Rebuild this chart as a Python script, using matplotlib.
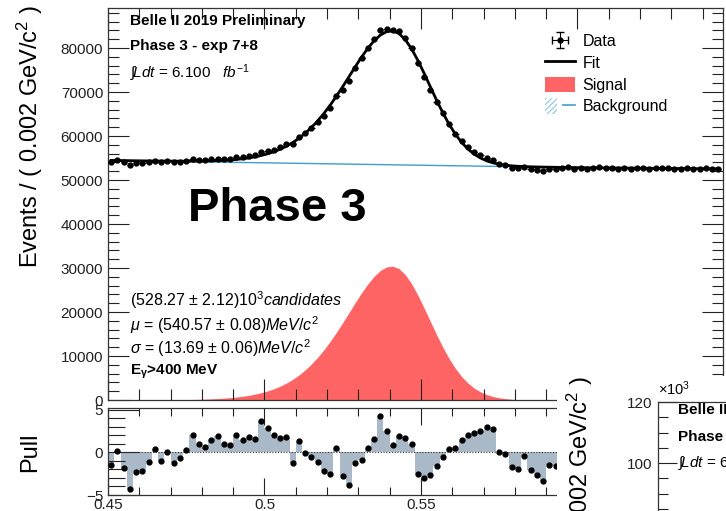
import numpy as np
import matplotlib
matplotlib.use("Agg")
import matplotlib.pyplot as plt
from matplotlib.ticker import MultipleLocator, NullLocator
from matplotlib.patches import Patch
from matplotlib.lines import Line2D
from matplotlib.legend_handler import HandlerTuple

plt.rcParams["font.family"] = ["Liberation Sans", "DejaVu Sans"]
plt.rcParams["mathtext.fontset"] = "custom"
plt.rcParams["mathtext.rm"] = "Liberation Sans"
plt.rcParams["mathtext.it"] = "Liberation Sans:italic"
plt.rcParams["mathtext.bf"] = "Liberation Sans:bold"
plt.rcParams["hatch.linewidth"] = 0.8

# M(gamma gamma) spectrum, 2 MeV bins starting at 0.45 GeV
bin_width = 0.002
x_low = 0.45

events = [
    54119, 54471, 53985, 53405, 53834, 53844, 54079, 54418, 54087, 54319,
    53993, 54118, 54351, 54777, 54529, 54476, 54696, 54857, 54699, 54780,
    55168, 55170, 55439, 55631, 56450, 56622, 56922, 57397, 58107, 58202,
    59792, 60608, 61807, 63162, 64591, 66388, 69194, 70510, 72443, 75412,
    77686, 80064, 82082, 84178, 84439, 84145, 83842, 82355, 80087, 76502,
    73463, 70484, 67708, 65121, 62752, 60558, 58906, 57524, 56425, 55602,
    55050, 54545, 53605, 53324, 52827, 52664, 52965, 52520, 52363, 52159,
    52584, 52513, 52700, 52950, 52600, 52780, 52560, 52700, 52950, 52780,
    52660, 52600, 52760, 52520, 52650, 52720, 52580, 52640, 52780, 52650,
    52450, 52560, 52680, 52420, 52560, 52640, 52600, 52560,
]

signal = [
    5, 6, 8, 10, 13, 17, 22, 29, 37, 48,
    61, 78, 100, 128, 163, 207, 262, 333, 421, 533,
    672, 845, 1060, 1330, 1660, 2060, 2550, 3140, 3850, 4690,
    5690, 6850, 8190, 9720, 11440, 13350, 15410, 17600, 19870, 22150,
    24350, 26380, 28110, 29430, 30240, 30430, 29850, 28470, 26410, 23830,
    20920, 17850, 14820, 11970, 9400, 7180, 5330, 3850, 2710, 1850,
    1230, 796, 500, 306, 182, 105, 59, 32, 17, 9,
    5, 2, 1, 0, 0, 0, 0, 0, 0, 0,
    0, 0, 0, 0, 0, 0, 0, 0, 0, 0,
    0, 0, 0, 0, 0, 0, 0, 0,
]

background = [
    54450, 54428, 54406, 54384, 54362, 54340, 54318, 54296, 54274, 54252,
    54230, 54208, 54186, 54164, 54142, 54120, 54098, 54076, 54054, 54032,
    54010, 53988, 53966, 53944, 53922, 53900, 53878, 53856, 53834, 53812,
    53790, 53768, 53746, 53724, 53702, 53680, 53658, 53636, 53614, 53592,
    53570, 53548, 53526, 53504, 53482, 53460, 53438, 53416, 53394, 53372,
    53350, 53328, 53306, 53284, 53262, 53240, 53218, 53196, 53174, 53152,
    53130, 53108, 53086, 53064, 53042, 53020, 52998, 52976, 52954, 52932,
    52910, 52888, 52866, 52844, 52822, 52800, 52788, 52776, 52764, 52752,
    52740, 52728, 52716, 52704, 52692, 52680, 52668, 52656, 52644, 52632,
    52620, 52608, 52596, 52584, 52572, 52560, 52548, 52536,
]

pulls = [
    -1.44, 0.16, -1.84, -4.24, -2.32, -2.20, -1.12, 0.40, -0.96, 0.08,
    -1.28, -0.72, 0.28, 2.08, 0.96, 0.64, 1.44, 1.92, 0.96, 0.92,
    2.08, 1.44, 1.76, 1.52, 3.68, 2.80, 2.08, 1.68, 1.76, -1.24,
    1.28, -0.04, -0.52, -1.12, -2.16, -2.48, 0.48, -2.72, -3.84, -1.20,
    -0.84, 0.48, 1.56, 4.32, 2.48, 0.88, 1.92, 1.64, 1.00, -2.52,
    -2.96, -2.60, -1.60, -0.52, 0.36, 0.56, 1.48, 2.00, 2.28, 2.56,
    2.96, 2.76, 0.08, -0.20, -1.72, -2.00, -0.40, -2.12, -2.64, -3.40,
    -1.44, -1.64,
]

SIGNAL_COLOR = "#ff6464"
BKG_COLOR = "#3d9fcf"
PULL_COLOR = "#aab9c7"

W, H = 726, 511


def fig_box(left, top, right, bottom):
    """Pixel box -> figure fraction rect."""
    return [left / W, 1 - bottom / H, (right - left) / W, (bottom - top) / H]


def root_ticks(ax, major_len, minor_len):
    ax.tick_params(which="both", direction="in", top=True, right=True,
                   width=0.8, colors="#222222", labelsize=11)
    ax.tick_params(which="major", length=major_len)
    ax.tick_params(which="minor", length=minor_len)
    for s in ax.spines.values():
        s.set_linewidth(0.9)
        s.set_color("#333333")


fig = plt.figure(figsize=(W / 100, H / 100), dpi=100)

events = np.array(events, dtype=float)
signal = np.array(signal, dtype=float)
background = np.array(background, dtype=float)
centers = x_low + bin_width * (np.arange(len(events)) + 0.5)
fit = background + signal
x_high = 0.6465

# --- main panel ---
ax = fig.add_axes(fig_box(108, 8, 723, 400))
ax.fill_between(centers, 0, signal, color=SIGNAL_COLOR, lw=0, zorder=1)
ax.plot(centers, background, color=BKG_COLOR, lw=1.0, zorder=2)
ax.plot(centers, fit, color="black", lw=2.0, zorder=3)
ax.errorbar(centers, events, yerr=np.sqrt(events), xerr=bin_width / 2,
            fmt="o", ms=3.5, color="black", elinewidth=0.8, capsize=0, zorder=4)

ax.set_xlim(x_low, x_high)
ax.set_ylim(0, 89100)
ax.xaxis.set_major_locator(MultipleLocator(0.05))
ax.xaxis.set_minor_locator(MultipleLocator(0.01))
ax.yaxis.set_major_locator(MultipleLocator(10000))
ax.yaxis.set_minor_locator(MultipleLocator(2000))
ax.set_xticklabels([])
root_ticks(ax, 15, 8)

# legend
data_handle = ax.errorbar([np.nan], [np.nan], yerr=[1], xerr=[1], fmt="o", ms=3.5,
                          color="black", elinewidth=0.8, capsize=3)
fit_handle = Line2D([], [], color="black", lw=2)
sig_handle = Patch(facecolor=SIGNAL_COLOR, edgecolor="none")
bkg_hatch = Patch(facecolor="none", edgecolor="#8cc6e4", hatch="//////", lw=0)
bkg_line = Line2D([], [], color=BKG_COLOR, lw=1.2)
ax.legend([data_handle, fit_handle, sig_handle, (bkg_hatch, bkg_line)],
          ["Data", "Fit", "Signal", "Background"],
          handler_map={tuple: HandlerTuple(ndivide=None)},
          loc="upper left", bbox_to_anchor=(0.7, 0.952), frameon=False,
          fontsize=11.5, handlelength=1.9, handleheight=1.1,
          labelspacing=0.35, handletextpad=0.45, borderaxespad=0)

# labels inside the main panel
ax.text(0.036, 0.968, "Belle II 2019 Preliminary", transform=ax.transAxes,
        fontsize=11, fontweight="bold", va="center")
ax.text(0.036, 0.904, "Phase 3 - exp 7+8", transform=ax.transAxes,
        fontsize=11, fontweight="bold", va="center")
ax.text(0.036, 0.835, r"$\int\!Ldt$ = 6.100   $fb^{-1}$", transform=ax.transAxes,
        fontsize=11, va="center")
ax.text(0.13, 0.488, "Phase 3", transform=ax.transAxes,
        fontsize=34, fontweight="bold", va="center")
ax.text(0.036, 0.255, r"(528.27 $\pm$ 2.12)10$^{3}$$candidates$",
        transform=ax.transAxes, fontsize=11.5, va="center")
ax.text(0.036, 0.192, r"$\mu$ = (540.57 $\pm$ 0.08)$MeV/c^{2}$",
        transform=ax.transAxes, fontsize=11.5, va="center")
ax.text(0.036, 0.133, r"$\sigma$ = (13.69 $\pm$ 0.06)$MeV/c^{2}$",
        transform=ax.transAxes, fontsize=11.5, va="center")
ax.text(0.036, 0.072, r"$\mathbf{E_{\gamma}}$>400 MeV", transform=ax.transAxes,
        fontsize=11, fontweight="bold", va="center")

# --- pull panel ---
axp = fig.add_axes(fig_box(108, 408, 723, 495))
n_pull = len(pulls)
axp.bar(centers[:n_pull], pulls, width=bin_width, color=PULL_COLOR, lw=0, zorder=1)
axp.axhline(0, color="#333333", lw=0.8, ls=(0, (1, 1.5)), zorder=2)
axp.plot(centers[:n_pull], pulls, "o", ms=3.5, color="black", zorder=3)
axp.set_xlim(x_low, x_high)
axp.set_ylim(-5.0, 5.2)
axp.xaxis.set_major_locator(MultipleLocator(0.05))
axp.xaxis.set_minor_locator(MultipleLocator(0.01))
axp.yaxis.set_major_locator(MultipleLocator(5))
axp.yaxis.set_minor_locator(MultipleLocator(1))
axp.set_xticks([0.45, 0.5, 0.55, 0.6])
axp.set_xticklabels(["0.45", "0.5", "0.55", "0.6"])
root_ticks(axp, 12, 6)
axp.tick_params(axis="y", which="major", length=22)
axp.tick_params(axis="y", which="minor", length=12)
axp.tick_params(axis="x", pad=2)

fig.text(30 / W, 1 - 137 / H, r"Events / ( 0.002 GeV/c$^{2}$ )", rotation=90,
         ha="center", va="center", fontsize=17)
fig.text(30 / W, 1 - 452 / H, "Pull", rotation=90, ha="center", va="center",
         fontsize=17)

# --- neighbouring canvas overlapping the lower right corner ---
cover = fig.add_axes(fig_box(557, 376, 726, 511))
cover.set_facecolor("white")
cover.set_xticks([])
cover.set_yticks([])
for s in cover.spines.values():
    s.set_visible(False)
cover.text(23 / 169, 1.0, r"Events / ( 0.002 GeV/c$^{2}$ )", rotation=90,
           ha="center", va="top", fontsize=17, transform=cover.transAxes)

ax2 = fig.add_axes(fig_box(658, 402, 1300, 768))
ax2.set_ylim(0, 120)
ax2.set_xlim(0, 1)
ax2.yaxis.set_major_locator(MultipleLocator(20))
ax2.yaxis.set_minor_locator(MultipleLocator(5))
ax2.xaxis.set_major_locator(NullLocator())
root_ticks(ax2, 14, 7)
ax2.tick_params(axis="y", labelsize=11, pad=4)
ax2.text(0.0, 1.012, r"$\times$10$^{3}$", transform=ax2.transAxes, fontsize=10.5,
         va="bottom", ha="left")
ax2.text(0.031, 0.978, "Belle II 2019 Preliminary", transform=ax2.transAxes,
         fontsize=11, fontweight="bold", va="center")
ax2.text(0.031, 0.904, "Phase 3 - exp 7+8", transform=ax2.transAxes,
         fontsize=11, fontweight="bold", va="center")
ax2.text(0.031, 0.835, r"$\int\!Ldt$ = 6.100   $fb^{-1}$", transform=ax2.transAxes,
         fontsize=11, va="center")

fig.savefig("out.png", dpi=100)
